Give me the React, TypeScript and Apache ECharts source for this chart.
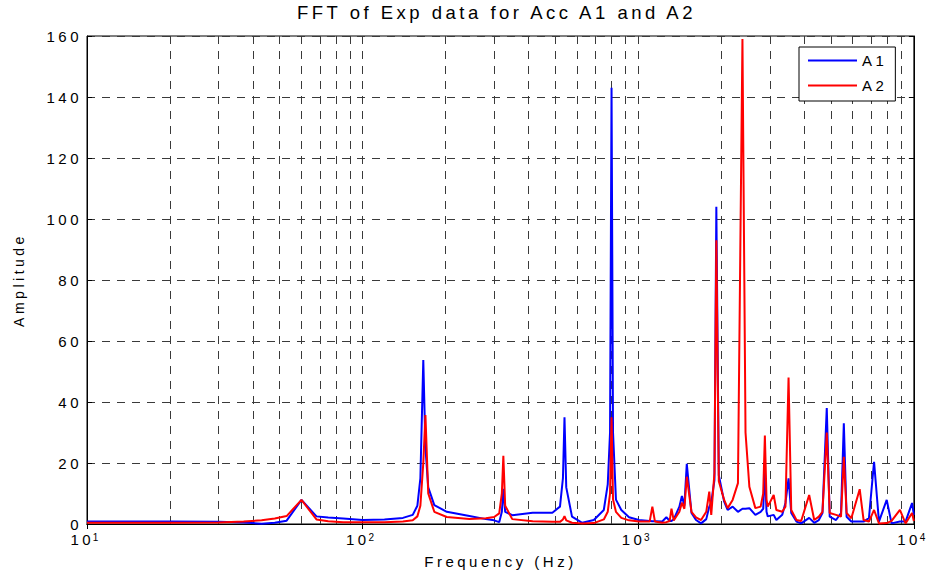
import React, { useEffect, useRef } from 'react';
import * as echarts from 'echarts';

const titleText = 'FFT of Exp data for Acc A1 and A2';
const xAxisName = 'Frequency (Hz)';
const yAxisName = 'Amplitude';
const seriesNames = ['A1', 'A2'];

const freqHz = [
  10, 15, 20, 30, 37, 43, 48, 53, 60, 68, 75, 85, 100, 120, 140, 152, 158, 162, 166, 169,
  173, 182, 202, 244, 280, 300, 313, 320, 324, 329, 349, 414, 488, 520, 533, 540, 548, 575,
  626, 690, 750, 775, 790, 800, 810, 830, 868, 926, 1005, 1100, 1125, 1150, 1222, 1265,
  1300, 1320, 1345, 1410, 1440, 1470, 1500, 1560, 1620, 1690, 1765, 1810, 1840, 1890,
  1920, 1960, 2050, 2110, 2200, 2300, 2388, 2450, 2530, 2660, 2780, 2840, 2880, 2920,
  2950, 3100, 3170, 3330, 3420, 3510, 3590, 3750, 3900, 4170, 4350, 4520, 4660, 4830,
  4950, 5220, 5440, 5570, 5700, 5930, 6360, 6570, 6870, 7170, 7470, 7970, 8300, 8900,
  9330, 9850, 10000,
];

const ampA1 = [
  0.8, 0.8, 0.8, 0.7, 0.5, 0.1, 0.4, 1.1, 7.9, 2.5, 2.1, 1.8, 1.3, 1.5, 2.0, 3.0, 6.0, 15, 53.8, 25,
  12, 6.2, 4.0, 2.6, 1.6, 1.2, 0.6, 4, 11.5, 4, 2.9, 3.7, 3.7, 5.7, 15, 35, 12, 2.4,
  0.4, 1.3, 4.6, 13, 30, 143, 30, 8, 4.6, 2.2, 1.3, 1.0, 0.9, 0.9, 0.8, 2.2,
  1.0, 1.0, 1.5, 5.7, 9.2, 6, 19.7, 3.6, 1.3, 0.2, 1.6, 5.7, 7, 14.4,
  104, 16, 7.3, 4.6, 5.7, 4.0, 5.0, 5.0, 5.2, 3.0, 4.0, 5, 18, 4,
  2.5, 3.0, 1.3, 3.0, 6.9, 15, 3.6, 0.8, 0.2, 2.0, 0.4, 1.3, 3.6, 38,
  2.4, 1.3, 3.6, 33, 2.4, 0.8, 0.8, 0.8, 1.9, 20.4, 0.8, 7.9, 0.2, 0.8,
  0.8, 6.9, 3,
];

const ampA2 = [
  0.4, 0.4, 0.4, 0.5, 0.8, 1.2, 1.8, 2.6, 7.9, 1.5, 0.9, 0.6, 0.6, 0.6, 0.8, 1.2, 2.5, 6, 20, 35.7,
  10, 4, 2.3, 1.6, 1.9, 2.3, 3.5, 10, 22.4, 6, 1.6, 0.9, 0.7, 0.7, 1.5, 2.6, 1.2, 0.4,
  0.2, 0.3, 1.5, 4, 10, 35, 8, 4, 2.0, 1.2, 0.8, 0.8, 5.7, 0.8, 0.4, 0.6,
  1.0, 5.0, 1.2, 4.0, 7.0, 5, 15.5, 4.0, 2.2, 1.3, 4.0, 10.6, 3, 16.7,
  93, 14, 7.9, 5.2, 7.9, 13.4, 159, 30, 12.2, 5.2, 5.7, 10, 29, 8,
  5.7, 9.5, 4.6, 4.0, 5.7, 48, 4.6, 1.3, 1.0, 9.5, 1.3, 2.4, 4.0, 30,
  3.6, 3.0, 2.4, 22, 3.6, 1.9, 11.4, 1.3, 0.8, 4.6, 0.2, 0.3, 1.0, 4.6,
  0.2, 3.6, 1,
];

const xMin = 10;
const xMax = 10000;
const yMin = 0;
const yMax = 160;
const yStep = 20;
const decades = [10, 100, 1000];
const minorMultipliers = [2, 3, 4, 5, 6, 7, 8, 9];

export default function App() {
  const ref = useRef<HTMLDivElement>(null);

  useEffect(() => {
    if (!ref.current) return;
    const chart = echarts.init(ref.current, null, { renderer: 'svg' });
    const font = "'Liberation Sans', Arial, Helvetica, sans-serif";
    const minorGrid: number[] = [];
    decades.forEach((d) => minorMultipliers.forEach((m) => minorGrid.push(d * m)));
    const dash = [8, 7];
    const gridColor = '#3a3a3a';

    chart.setOption({
      animation: false,
      backgroundColor: '#ffffff',
      textStyle: { fontFamily: font, color: '#000' },
      title: {
        text: titleText,
        left: 297,
        top: 3,
        padding: 0,
        textStyle: { fontSize: 18.5, fontWeight: 'normal', color: '#000', fontFamily: font },
      },
      legend: {
        data: seriesNames.map((n) => ({ name: n, icon: 'rect' })),
        orient: 'vertical',
        left: 799,
        top: 47,
        itemWidth: 49,
        itemHeight: 2,
        itemGap: 10,
        padding: [6, 15, 8, 9],
        borderColor: '#000',
        borderWidth: 1,
        borderRadius: 0,
        backgroundColor: '#fff',
        textStyle: { fontSize: 15, color: '#000', fontFamily: font, lineHeight: 15 },
      },
      grid: {
        left: 87,
        right: 15,
        top: 36,
        bottom: 58,
        show: true,
        borderColor: '#000',
        borderWidth: 1,
        backgroundColor: 'transparent',
      },
      xAxis: [
        {
          type: 'log',
          logBase: 10,
          min: xMin,
          max: xMax,
          name: xAxisName,
          nameLocation: 'middle',
          nameGap: 30,
          nameTextStyle: { fontSize: 15, color: '#000', fontFamily: font },
          axisLine: { show: true, lineStyle: { color: '#000', width: 1 } },
          axisTick: { show: true, inside: true, length: 5, lineStyle: { color: '#000' } },
          axisLabel: {
            margin: 8,
            color: '#000',
            formatter: (v: number) => `{b|10}{e|${Math.round(Math.log10(v))}}`,
            rich: {
              b: { fontSize: 15, fontFamily: font, color: '#000', verticalAlign: 'bottom', lineHeight: 15, padding: [6, 4, 0, 0] },
              e: { fontSize: 10, fontFamily: font, color: '#000', verticalAlign: 'top', lineHeight: 10 },
            },
          },
          splitLine: { show: true, lineStyle: { color: gridColor, type: dash, width: 1 } },
        },
        {
          type: 'log',
          logBase: 10,
          min: xMin,
          max: xMax,
          position: 'top',
          axisLine: { show: true, lineStyle: { color: '#000', width: 1 } },
          axisTick: { show: true, inside: true, length: 5, lineStyle: { color: '#000' } },
          axisLabel: { show: false },
          splitLine: { show: false },
        },
      ],
      yAxis: [
        {
          type: 'value',
          min: yMin,
          max: yMax,
          interval: yStep,
          name: yAxisName,
          nameLocation: 'middle',
          nameRotate: 90,
          nameGap: 61,
          nameTextStyle: { fontSize: 14, color: '#000', fontFamily: font },
          axisLine: { show: true, lineStyle: { color: '#000', width: 1 } },
          axisTick: { show: true, inside: true, length: 5, lineStyle: { color: '#000' } },
          axisLabel: { fontSize: 15, color: '#000', margin: 5, fontFamily: font },
          splitLine: { show: true, lineStyle: { color: gridColor, type: dash, width: 1 } },
        },
        {
          type: 'value',
          min: yMin,
          max: yMax,
          interval: yStep,
          position: 'right',
          axisLine: { show: true, lineStyle: { color: '#000', width: 1 } },
          axisTick: { show: true, inside: true, length: 5, lineStyle: { color: '#000' } },
          axisLabel: { show: false },
          splitLine: { show: false },
        },
      ],
      series: [
        {
          name: 'minor-grid',
          type: 'line',
          data: [[xMin, yMin]],
          symbol: 'none',
          silent: true,
          lineStyle: { opacity: 0 },
          markLine: {
            silent: true,
            symbol: 'none',
            z: 1,
            label: { show: false },
            lineStyle: { color: gridColor, type: dash, width: 1 },
            data: minorGrid.map((v) => ({ xAxis: v })),
          },
        },
        {
          name: seriesNames[0],
          type: 'line',
          z: 3,
          data: freqHz.map((f, i) => [f, ampA1[i]]),
          symbol: 'none',
          color: '#0000ff',
          lineStyle: { color: '#0000ff', width: 2 },
        },
        {
          name: seriesNames[1],
          type: 'line',
          z: 4,
          data: freqHz.map((f, i) => [f, ampA2[i]]),
          symbol: 'none',
          color: '#ff0000',
          lineStyle: { color: '#ff0000', width: 2 },
        },
      ],
    });

    return () => chart.dispose();
  }, []);

  return (
    <div
      ref={ref}
      style={{
        position: 'fixed',
        left: 0,
        top: 0,
        width: 930,
        height: 582,
        background: '#fff',
        letterSpacing: '3.5px',
      }}
    />
  );
}
